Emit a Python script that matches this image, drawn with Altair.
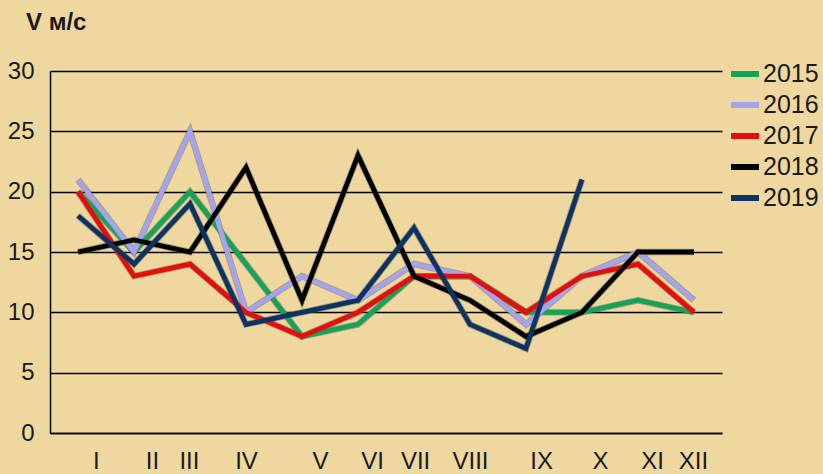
import altair as alt
import pandas as pd

# Monthly wind speed, m/s
MONTHS = list(range(1, 13))
SERIES = ["2015", "2016", "2017", "2018", "2019"]
V_2015 = [20, 15, 20, 14, 8, 9, 13, 13, 10, 10, 11, 10]
V_2016 = [21, 15, 25, 10, 13, 11, 14, 13, 9, 13, 15, 11]
V_2017 = [20, 13, 14, 10, 8, 10, 13, 13, 10, 13, 14, 10]
V_2018 = [15, 16, 15, 22, 11, 23, 13, 11, 8, 10, 15, 15]
V_2019 = [18, 14, 19, 9, 10, 11, 17, 9, 7, 21, None, None]
COLORS = ["#14a35a", "#a3a3f2", "#e60d0d", "#000000", "#0d3366"]

# Roman month labels and where they sit along the month axis
MONTH_LABELS = ["I", "II", "III", "IV", "V", "VI", "VII", "VIII", "IX", "X", "XI", "XII"]
LABEL_POS = [1.32, 2.32, 2.98, 4.0, 5.32, 6.25, 7.02, 8.0, 9.27, 10.32, 11.25, 11.98]

rows = []
for name, vals in zip(SERIES, [V_2015, V_2016, V_2017, V_2018, V_2019]):
    for m, v in zip(MONTHS, vals):
        if v is not None:
            rows.append({"month": m, "year": name, "v": v})
df = pd.DataFrame(rows)

pos_keys = ",".join(str(round(p * 100)) for p in LABEL_POS)
lab_list = ",".join(f"'{s}'" for s in MONTH_LABELS)
label_expr = f"[{lab_list}][indexof([{pos_keys}], round(datum.value * 100))]"

FONT = "Liberation Sans"
TEXT = "#1a1a1a"

x = alt.X(
    "month:Q",
    scale=alt.Scale(domain=[0.5, 12.5], nice=False, zero=False),
    axis=alt.Axis(
        values=LABEL_POS,
        labelExpr=label_expr,
        title=None,
        grid=False,
        ticks=False,
        domainColor="#000000",
        domainWidth=1.5,
        labelFontSize=24,
        labelFont=FONT,
        labelColor=TEXT,
        labelPadding=16,
        labelFlush=False,
        labelOverlap=False,
    ),
)
y = alt.Y(
    "v:Q",
    scale=alt.Scale(domain=[0, 30], nice=False),
    axis=alt.Axis(
        values=[0, 5, 10, 15, 20, 25, 30],
        title=None,
        ticks=False,
        grid=True,
        gridColor="#000000",
        gridWidth=1.5,
        gridOpacity=1,
        domainColor="#000000",
        domainWidth=1.5,
        labelFontSize=24,
        labelFont=FONT,
        labelColor=TEXT,
        labelPadding=16,
    ),
)

color = alt.Color(
    "year:N",
    scale=alt.Scale(domain=SERIES, range=COLORS),
    legend=alt.Legend(
        title=None,
        orient="none",
        legendX=678,
        legendY=-14,
        symbolType="stroke",
        symbolSize=784,
        symbolStrokeWidth=6,
        labelFontSize=25,
        labelFont=FONT,
        labelColor=TEXT,
        labelOffset=1,
        rowPadding=1,
        padding=0,
    ),
)

# thin darker rim under each line
rim = alt.Chart(df).mark_line(strokeWidth=6.5, color="#6b6040", opacity=0.5).encode(
    x=x, y=y, detail="year:N"
)
lines = alt.Chart(df).mark_line(strokeWidth=4.8).encode(x=x, y=y, color=color)

chart = (
    alt.layer(rim, lines)
    .properties(
        width=672,
        height=362,
        autosize=alt.AutoSizeParams(type="none"),
        padding={"left": 50, "top": 71, "right": 101, "bottom": 41},
        title=alt.TitleParams(
            "V  м/с",
            anchor="start",
            frame="group",
            dx=-24,
            offset=22,
            fontSize=24,
            font=FONT,
            fontWeight="bold",
            color=TEXT,
        ),
    )
    .configure(background="#efd8a0")
    .configure_view(stroke=None)
)

chart.save("out.html", embed_options={"renderer": "svg", "actions": False})
